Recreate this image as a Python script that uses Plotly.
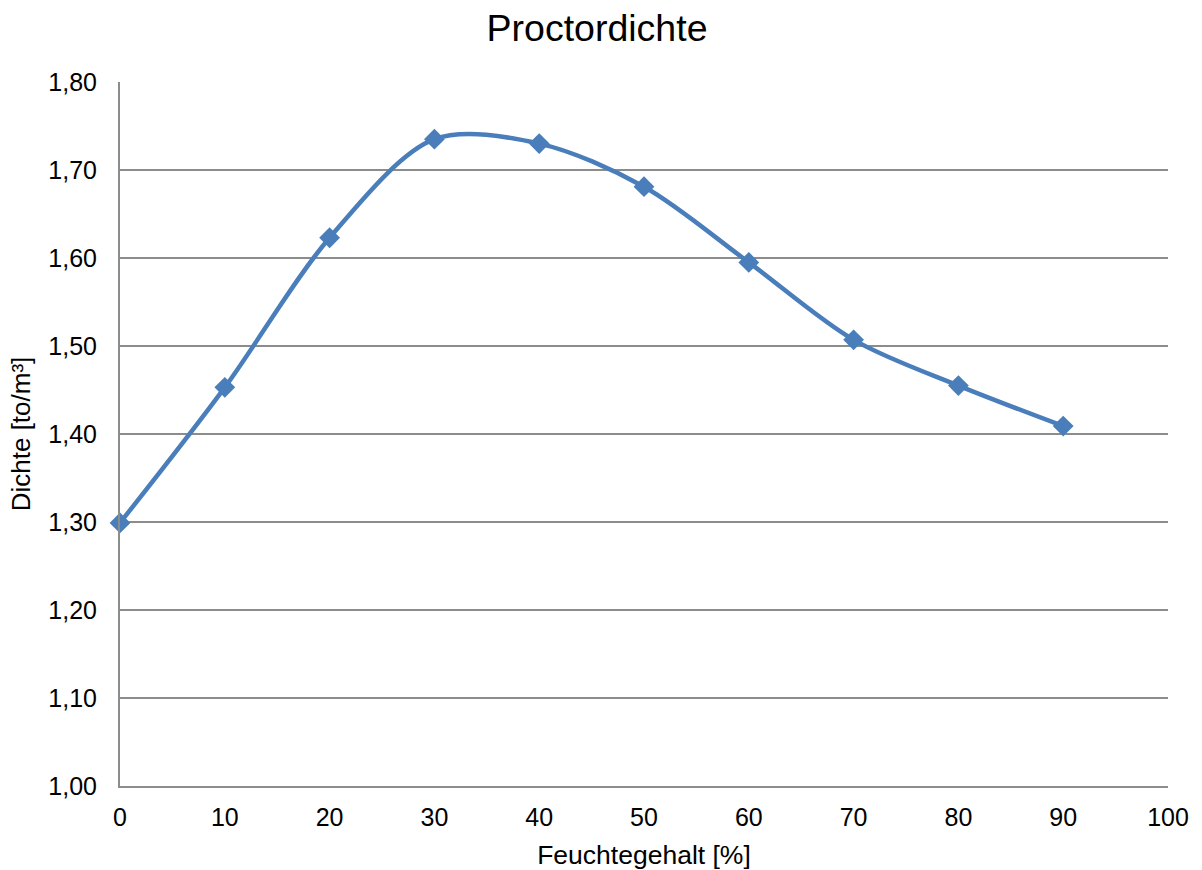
import plotly.graph_objects as go

feuchte = [0, 10, 20, 30, 40, 50, 60, 70, 80, 90]
dichte = [1.299, 1.453, 1.623, 1.735, 1.730, 1.681, 1.595, 1.507, 1.455, 1.409]
y_ticks = [1.0, 1.1, 1.2, 1.3, 1.4, 1.5, 1.6, 1.7, 1.8]
x_ticks = list(range(0, 101, 10))

fig = go.Figure()
fig.add_trace(go.Scatter(
    x=feuchte, y=dichte, mode="lines+markers",
    line=dict(color="#4a7ebb", width=4.5, shape="spline", smoothing=0.9),
    marker=dict(symbol="diamond", size=16, color="#4a7ebb"),
    showlegend=False, cliponaxis=False,
))

fig.update_layout(
    width=1202, height=870,
    margin=dict(l=120, r=34, t=82, b=84),
    paper_bgcolor="white", plot_bgcolor="white",
    separators=",.",
    font=dict(family="Liberation Sans, Arial, sans-serif", color="black"),
    title=dict(text="Proctordichte", x=0.4967, xanchor="center", y=0.968, yanchor="middle",
               font=dict(size=37.5, color="black")),
    xaxis=dict(range=[0, 100], tickvals=x_ticks, showgrid=False, showline=True,
               linecolor="#8c8c8c", linewidth=2, ticks="", zeroline=False,
               tickfont=dict(size=25), ticklabelstandoff=8, automargin=False,
               title=dict(text="Feuchtegehalt [%]", font=dict(size=26.5), standoff=17)),
    yaxis=dict(range=[1.0, 1.8], tickvals=y_ticks, tickformat=".2f", showgrid=True,
               gridcolor="#8c8c8c", gridwidth=1.5, showline=True, linecolor="#8c8c8c",
               linewidth=2, ticks="", zeroline=False, tickfont=dict(size=25),
               ticklabelstandoff=16, automargin=False,
               title=dict(text="Dichte [to/m³]", font=dict(size=26), standoff=10)),
)

fig.write_html("out.html")
